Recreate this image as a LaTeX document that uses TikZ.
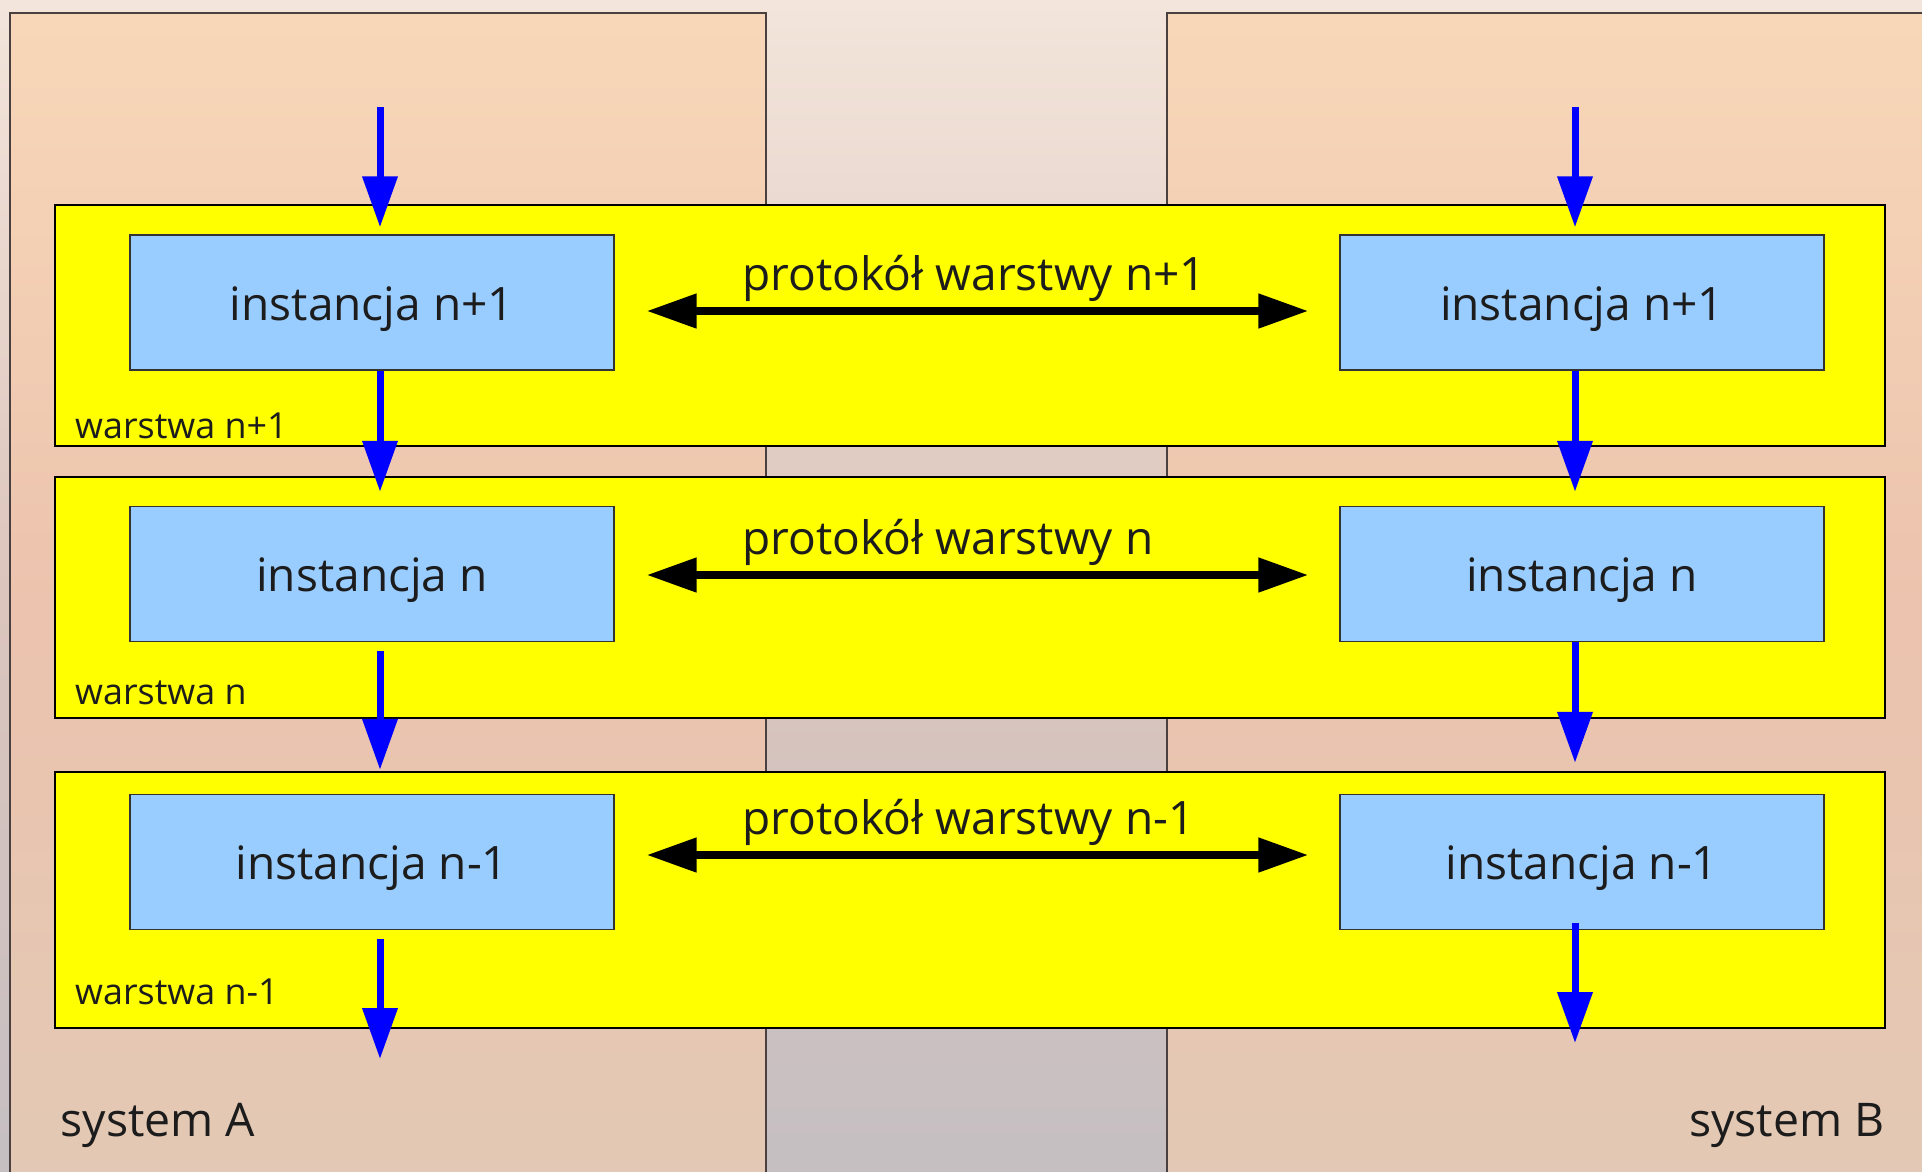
\documentclass[tikz,border=0pt]{standalone}
\usepackage{fontspec}
\setmainfont{Open Sans}
\usepackage{tikz}
\usetikzlibrary{arrows.meta, positioning}
\usepackage{xcolor}
\definecolor{BgTop}{HTML}{F3E5DB}
\definecolor{BgMid}{HTML}{DCC5BD}
\definecolor{BgBottom}{HTML}{C5BFC2}
\definecolor{PanelTop}{HTML}{F8D7B8}
\definecolor{PanelMid}{HTML}{ECC3AE}
\definecolor{PanelBottom}{HTML}{E2C9B5}
\definecolor{PanelEdge}{HTML}{4A4040}
\definecolor{LayerYellow}{HTML}{FFFF00}
\definecolor{InstBlue}{HTML}{99CCFF}
\definecolor{FlowBlue}{HTML}{0000FF}
\definecolor{TextDark}{HTML}{1C1C1C}
\tikzset{
    % Panels and boxes
    syspanel/.style={
        draw=PanelEdge,
        line width=0.4pt,
        top color=PanelTop,
        bottom color=PanelBottom,
        middle color=PanelMid
    },
    layerbox/.style={
        rectangle,
        draw=black,
        fill=LayerYellow,
        line width=0.5pt,
        minimum width=18.30cm,
        inner sep=0pt
    },
    instbox/.style={
        rectangle,
        draw=black!80,
        fill=InstBlue,
        line width=0.4pt,
        minimum width=4.84cm,
        minimum height=1.35cm,
        inner sep=0pt,
        text height=0.40cm,
        text depth=0.05cm,
        text=TextDark,
        font=\fontsize{13.1}{15}\selectfont
    },
    % Text styles
    layerlabel/.style={
        anchor=base west,
        inner sep=0pt,
        text=TextDark,
        font=\fontsize{10.2}{12}\selectfont
    },
    protolabel/.style={
        anchor=base west,
        inner sep=0pt,
        text=TextDark,
        font=\fontsize{13.1}{15}\selectfont
    },
    syslabel/.style={
        inner sep=0pt,
        text=TextDark,
        font=\fontsize{13.2}{15}\selectfont
    },
    % Arrow styles
    flowarrow/.style={
        -{Triangle[width=0.34cm,length=0.51cm]},
        line width=0.07cm,
        FlowBlue
    },
    protoarrow/.style={
        {Triangle[width=0.33cm,length=0.50cm]}-{Triangle[width=0.33cm,length=0.50cm]},
        line width=0.08cm,
        black
    }
}

\begin{document}
\begin{tikzpicture}
                \useasboundingbox (0,0) rectangle (19.22,-11.71);
                \clip (0,0) rectangle (19.22,-11.71);

                % Background and the two systems
                \fill[top color=BgTop,bottom color=BgBottom,middle color=BgMid] (0,0) rectangle (19.22,-11.71);
                \draw[syspanel] (0.10,-0.13) rectangle (7.66,-12.00);
                \draw[syspanel] (11.67,-0.13) rectangle (19.60,-12.00);

                % Layers
                \node[layerbox,minimum height=2.41cm] (layer1) at (9.70,-3.255) {};
                \node[layerbox,minimum height=2.41cm] (layer2) at (9.70,-5.975) {};
                \node[layerbox,minimum height=2.56cm] (layer3) at (9.70,-9.00) {};

                \node[layerlabel] (lab1) at (0.745,-4.38) {warstwa n+1};
                \node[layerlabel] (lab2) at (0.745,-7.04) {warstwa n};
                \node[layerlabel] (lab3) at (0.745,-10.04) {warstwa n-1};

                % Instances
                \node[instbox] (instA1) at (3.72,-3.025) {instancja n+1};
                \node[instbox] (instA2) at (3.72,-5.74) {instancja n};
                \node[instbox] (instA3) at (3.72,-8.62) {instancja n-1};

                \node[instbox] (instB1) at (15.82,-3.025) {instancja n+1};
                \node[instbox] (instB2) at (15.82,-5.74) {instancja n};
                \node[instbox] (instB3) at (15.82,-8.62) {instancja n-1};

                % Protocols
                \node[protolabel] (proto1) at (7.42,-2.90) {protokół warstwy n+1};
                \node[protolabel] (proto2) at (7.42,-5.54) {protokół warstwy n};
                \node[protolabel] (proto3) at (7.42,-8.34) {protokół warstwy n-1};

                \draw[protoarrow] ([xshift=0.32cm,yshift=-0.085cm]instA1.east) -- ([xshift=-0.31cm,yshift=-0.085cm]instB1.west);
                \draw[protoarrow] ([xshift=0.32cm,yshift=-0.01cm]instA2.east) -- ([xshift=-0.31cm,yshift=-0.01cm]instB2.west);
                \draw[protoarrow] ([xshift=0.32cm,yshift=0.07cm]instA3.east) -- ([xshift=-0.31cm,yshift=0.07cm]instB3.west);

                % Data flow down system A
                \coordinate (inA) at (3.80,-1.07);
                \coordinate (outA) at (3.80,-10.59);
                \draw[flowarrow] (inA) -- ([xshift=0.08cm,yshift=0.07cm]instA1.north);
                \draw[flowarrow] ([xshift=0.08cm]instA1.south) -- ([xshift=0.08cm,yshift=0.14cm]instA2.north);
                \draw[flowarrow] ([xshift=0.08cm,yshift=-0.09cm]instA2.south) -- ([xshift=0.08cm,yshift=0.24cm]instA3.north);
                \draw[flowarrow] ([xshift=0.08cm,yshift=-0.09cm]instA3.south) -- (outA);

                % Data flow down system B
                \coordinate (inB) at (15.75,-1.07);
                \coordinate (outB) at (15.75,-10.43);
                \draw[flowarrow] (inB) -- ([xshift=-0.07cm,yshift=0.07cm]instB1.north);
                \draw[flowarrow] ([xshift=-0.07cm]instB1.south) -- ([xshift=-0.07cm,yshift=0.14cm]instB2.north);
                \draw[flowarrow] ([xshift=-0.07cm]instB2.south) -- ([xshift=-0.07cm,yshift=0.31cm]instB3.north);
                \draw[flowarrow] ([xshift=-0.07cm,yshift=0.07cm]instB3.south) -- (outB);

                % Systems
                \node[syslabel,anchor=base west] (sysA) at (0.60,-11.36) {system A};
                \node[syslabel,anchor=base east] (sysB) at (18.85,-11.36) {system B};
            \end{tikzpicture}
\end{document}
